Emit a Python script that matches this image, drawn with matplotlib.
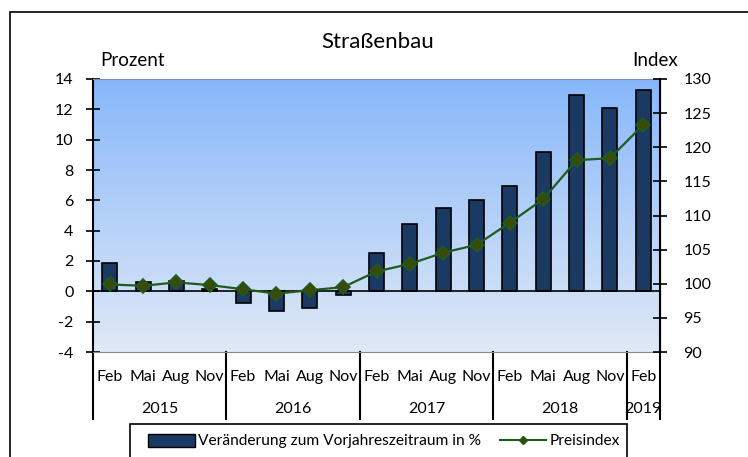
import numpy as np
import matplotlib.pyplot as plt
from matplotlib.patches import Rectangle, Patch
from matplotlib.lines import Line2D
import matplotlib.transforms as mtransforms

plt.rcParams['font.family'] = ['Lato', 'DejaVu Sans']
plt.rcParams['axes.unicode_minus'] = False

# Data
quarters = ['Feb', 'Mai', 'Aug', 'Nov'] * 4 + ['Feb']
years = ['2015', '2016', '2017', '2018', '2019']
year_counts = [4, 4, 4, 4, 1]
veraenderung = [1.85, 0.6, 0.7, 0.18, -0.78, -1.28, -1.08, -0.24,
                2.5, 4.45, 5.5, 6.05, 6.95, 9.2, 12.95, 12.1, 13.26]
preisindex = [99.9, 99.7, 100.2, 99.8, 99.2, 98.55, 99.05, 99.5,
              101.8, 102.9, 104.55, 105.7, 108.95, 112.4, 118.1, 118.4, 123.3]

bar_color = '#1b3a63'
line_color = '#1f5a1f'
marker_fill = '#3a4a08'

fig = plt.figure(figsize=(7.48, 4.57), dpi=100)
ax = fig.add_axes([93/748, 1 - 352/457, 567/748, 273/457])
ax2 = ax.twinx()

x = np.arange(len(veraenderung))
ax.set_xlim(-0.5, len(x) - 0.5)
ax.set_ylim(-4, 14)
ax2.set_ylim(90, 130)

# gradient background
grad = np.linspace(0, 1, 256).reshape(-1, 1)
top_c = np.array([135, 183, 250]) / 255
bot_c = np.array([224, 233, 246]) / 255
img = top_c[None, None, :] * (1 - grad[:, :, None]) + bot_c[None, None, :] * grad[:, :, None]
ax.imshow(img, extent=[-0.5, len(x) - 0.5, -4, 14], aspect='auto', zorder=0)

ax.bar(x, veraenderung, width=0.45, color=bar_color, edgecolor='black', linewidth=1.2, zorder=2)
ax.axhline(0, color='black', linewidth=1.2, zorder=3)
ax2.plot(x, preisindex, color=line_color, linewidth=1.6, marker='D', markersize=7,
         markerfacecolor=marker_fill, markeredgecolor=line_color, markeredgewidth=1.2, zorder=4)

# axes styling
ax.set_yticks(np.arange(-4, 15, 2))
ax2.set_yticks(np.arange(90, 131, 5))
ax.set_xticks([])
ax.tick_params(axis='y', direction='inout', length=10, width=1.2, labelsize=11.5, pad=9)
ax2.tick_params(axis='y', direction='inout', length=10, width=1.2, labelsize=11.5, pad=12)
ax.spines['left'].set_linewidth(1.5)
ax2.spines['right'].set_linewidth(1.5)
ax.spines['top'].set_color('#7a8fa8')
ax.spines['bottom'].set_color('#888888')
ax2.spines['top'].set_visible(False)
ax2.spines['bottom'].set_visible(False)
ax2.spines['left'].set_visible(False)

# category axis labels
trans = mtransforms.blended_transform_factory(ax.transData, ax.transAxes)
for i, q in enumerate(quarters):
    ax.text(i, -0.09, q, transform=trans, ha='center', va='center', fontsize=11.5)
start = 0
bounds = [-0.5]
for yr, n in zip(years, year_counts):
    ax.text(start + (n - 1) / 2, -0.21, yr, transform=trans, ha='center', va='center', fontsize=11.5)
    start += n
    bounds.append(start - 0.5)
for b in bounds:
    ax.plot([b, b], [0, -0.245], transform=trans, color='black', linewidth=1.5, clip_on=False)

# titles
fig.text(378/748, 1 - 42/457, 'Straßenbau', ha='center', va='center', fontsize=16)
fig.text(100/748, 1 - 61/457, 'Prozent', ha='left', va='center', fontsize=13.5)
fig.text(678/748, 1 - 61/457, 'Index', ha='right', va='center', fontsize=13.5)

# outer frame
fig.patches.append(Rectangle((10/748, -0.1), 1.2, 1 - 12/457 + 0.1, transform=fig.transFigure,
                             fill=False, edgecolor='black', linewidth=1.2))

# legend
fig.patches.append(Rectangle((130/748, -0.1), (627 - 130)/748, 0.1 + 1 - 424/457,
                             transform=fig.transFigure, fill=False, edgecolor='black', linewidth=1.2))
handles = [Patch(facecolor=bar_color, edgecolor='black', label='Veränderung zum Vorjahreszeitraum in %'),
           Line2D([0], [0], color=line_color, marker='D', markersize=4, markerfacecolor=marker_fill,
                  markeredgecolor=line_color, label='Preisindex')]
fig.legend(handles=handles, loc='center', bbox_to_anchor=(384/748, 1 - 441/457), ncol=2,
           frameon=False, fontsize=11.2, handlelength=3.0, handleheight=0.9, handletextpad=0.2,
           columnspacing=1.2)

fig.savefig('out.png', dpi=100)
